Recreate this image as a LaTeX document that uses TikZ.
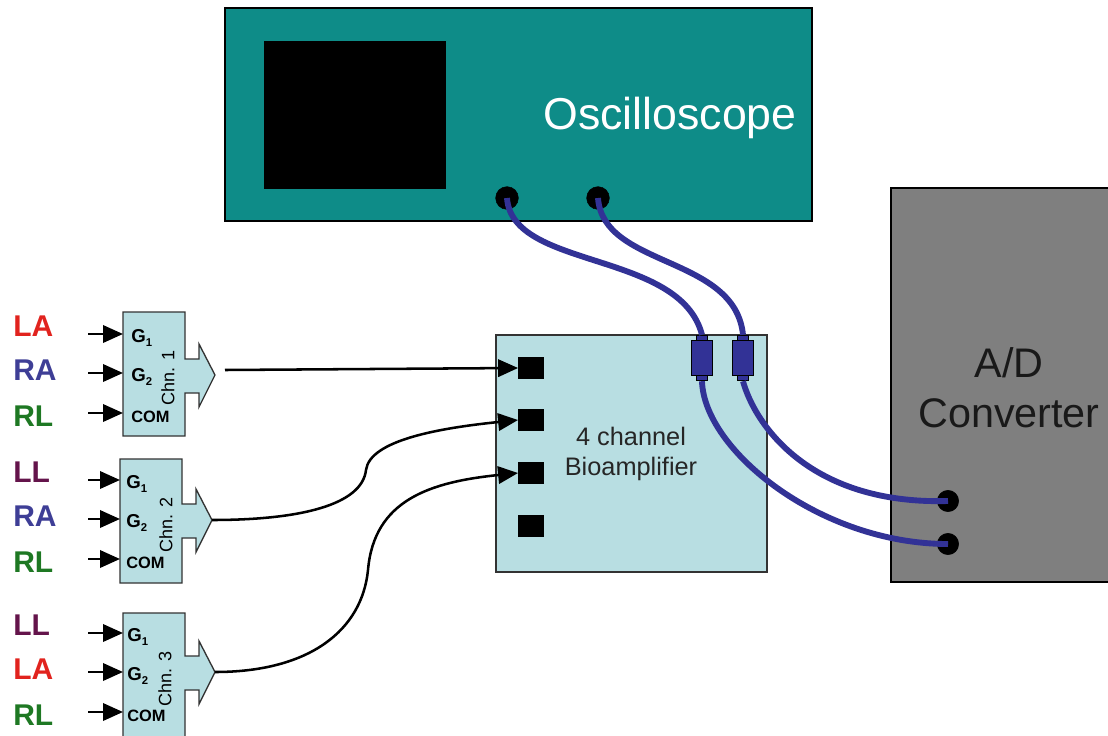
\documentclass[tikz,border=0pt]{standalone}
\usepackage{fontspec}
\setmainfont{Liberation Sans}
\usetikzlibrary{arrows.meta, positioning}
\definecolor{scopeteal}{RGB}{14,140,136}
\definecolor{ampblue}{RGB}{184,222,226}
\definecolor{convgrey}{RGB}{127,127,127}
\definecolor{cableblue}{RGB}{50,50,150}
\definecolor{sigred}{RGB}{225,35,30}
\definecolor{sigblue}{RGB}{62,62,150}
\definecolor{siggreen}{RGB}{30,120,35}
\definecolor{sigmaroon}{RGB}{100,20,75}
\tikzset{
    panel/.style={draw=#1, fill=#1, line width=1pt, inner sep=0pt},
    socket/.style={draw, circle, fill=black, inner sep=0pt, minimum size=17pt},
    portsq/.style={draw, fill=black, inner sep=0pt, minimum width=19pt, minimum height=16pt},
    plug/.style={draw=black, fill=cableblue, line width=0.8pt, inner sep=0pt, minimum width=16pt, minimum height=26pt},
    neck/.style={draw=black, fill=cableblue, line width=0.8pt, inner sep=0pt, minimum width=8pt, minimum height=34pt},
    cable/.style={draw=cableblue, line width=4.4pt},
    sigarrow/.style={draw=black, line width=1.9pt, -{Triangle[length=15pt,width=13pt]}},
    srclabel/.style={anchor=west, inner sep=0pt, font=\fontsize{22.5}{22.5}\selectfont\bfseries},
    pinlabel/.style={anchor=west, inner sep=0pt, font=\fontsize{12.3}{12.3}\selectfont\bfseries},
    chnlabel/.style={rotate=90, inner sep=0pt, font=\fontsize{13.5}{13.5}\selectfont}
}
\begin{document}
\begin{tikzpicture}[x=0.75pt, y=-0.75pt]
    \useasboundingbox (0,0) rectangle (1108,736);

    % oscilloscope
    \draw[draw=black, fill=scopeteal, line width=1pt] (225,8) rectangle (812,221);
    \node[panel=black, minimum width=135.5pt, minimum height=110pt] (Screen) at (355,115) {};
    \node[inner sep=0pt, text=white, font=\fontsize{33.5}{33.5}\selectfont\bfseries\mdseries] (ScopeText) at (670,118) {Oscilloscope};
    \node[socket] (ScopeA) at (507,198) {};
    \node[socket] (ScopeB) at (598,198) {};

    % converter
    \draw[draw=black, fill=convgrey, line width=0.8pt] (891,188) rectangle (1120,582);
    \node[inner sep=0pt, align=center, text=black!90, font=\fontsize{31}{37.5}\selectfont] (ConvText) at (1009,388) {A/D\\Converter};
    \node[socket, minimum size=16pt] (ConvA) at (948,501) {};
    \node[socket, minimum size=16pt] (ConvB) at (948,544) {};

    % amplifier
    \draw[draw=black!80, fill=ampblue, line width=1pt] (496,335) rectangle (767,572);
    \node[portsq] (Amp1) at (531,368) {};
    \node[portsq] (Amp2) at (531,420) {};
    \node[portsq] (Amp3) at (531,473) {};
    \node[portsq] (Amp4) at (531,526) {};
    \node[inner sep=0pt, align=center, text=black!85, font=\fontsize{19}{23}\selectfont] (AmpText) at (631,454) {4 channel\\Bioamplifier};
    \node[neck] (NeckA) at (702,358) {};
    \node[neck] (NeckB) at (743,358) {};
    \node[plug] (PlugA) at (702,358) {};
    \node[plug] (PlugB) at (743,358) {};

    % cables
    \draw[cable] (ScopeA.center) .. controls (512,270) and (680,250) .. (NeckA.north);
    \draw[cable] (ScopeB.center) .. controls (603,268) and (735,255) .. (NeckB.north);
    \draw[cable] (NeckA.south) .. controls (704,450) and (820,544) .. (ConvB.center);
    \draw[cable] (NeckB.south) .. controls (755,425) and (810,505) .. (ConvA.center);

    % channel boxes
    \foreach \n/\bx/\by/\po/\gx/\cx/\ca/\cola/\cb/\colb in {1/123/312/0/8/45/LA/sigred/RA/sigblue,
        2/120/459/-1/6/46/LL/sigmaroon/RA/sigblue, 3/123/613/-2/4/42/LL/sigmaroon/LA/sigred} {
        \draw[draw=black!80, fill=ampblue, line width=1pt] (\bx,\by) -- (\bx+62,\by) -- (\bx+62,\by+47+2*\po)
            -- (\bx+76,\by+47+2*\po) -- (\bx+76,\by+32+2*\po) -- (\bx+92,\by+63+2*\po) -- (\bx+76,\by+95+2*\po) -- (\bx+76,\by+81+2*\po)
            -- (\bx+62,\by+81+2*\po) -- (\bx+62,\by+124) -- (\bx,\by+124) -- cycle;
        \coordinate (Tip\n) at (\bx+92,\by+63+2*\po);

        \node[srclabel, text=\cola] (Src\n a) at (13,\by+14+\po) {\ca};
        \node[srclabel, text=\colb] (Src\n b) at (13,\by+58+\po) {\cb};
        \node[srclabel, text=siggreen] (Src\n c) at (13,\by+104+\po) {RL};

        \node[pinlabel] (Pin\n a) at (\bx+\gx,\by+26+\po) {\fontsize{14}{14}\selectfont G\raisebox{-0.4ex}{\fontsize{8.5}{8.5}\selectfont 1}};
        \node[pinlabel] (Pin\n b) at (\bx+\gx,\by+65+\po) {\fontsize{14}{14}\selectfont G\raisebox{-0.4ex}{\fontsize{8.5}{8.5}\selectfont 2}};
        \node[pinlabel] (Pin\n c) at (\bx+\gx,\by+105+\po) {COM};
        \node[chnlabel] (Chn\n) at (\bx+\cx,\by+66) {Chn. \n};

        \coordinate (Src\n aEnd) at (88,\by+22+\po);
        \coordinate (Src\n bEnd) at (88,\by+61+\po);
        \coordinate (Src\n cEnd) at (88,\by+101+\po);
        \draw[sigarrow] (Src\n aEnd) -- (\bx,\by+22+\po);
        \draw[sigarrow] (Src\n bEnd) -- (\bx,\by+61+\po);
        \draw[sigarrow] (Src\n cEnd) -- (\bx,\by+101+\po);
    }

    % signal lines
    \coordinate (Start1) at (225,370);
    \draw[sigarrow] (Start1) -- (Amp1.west);
    \draw[sigarrow] (Tip2) .. controls (300,520) and (362,505) .. (366,470)
        .. controls (370,440) and (440,428) .. (Amp2.west);
    \draw[sigarrow] (Tip3) .. controls (310,672) and (362,630) .. (368,570)
        .. controls (374,500) and (430,482) .. (Amp3.west);
\end{tikzpicture}
\end{document}
